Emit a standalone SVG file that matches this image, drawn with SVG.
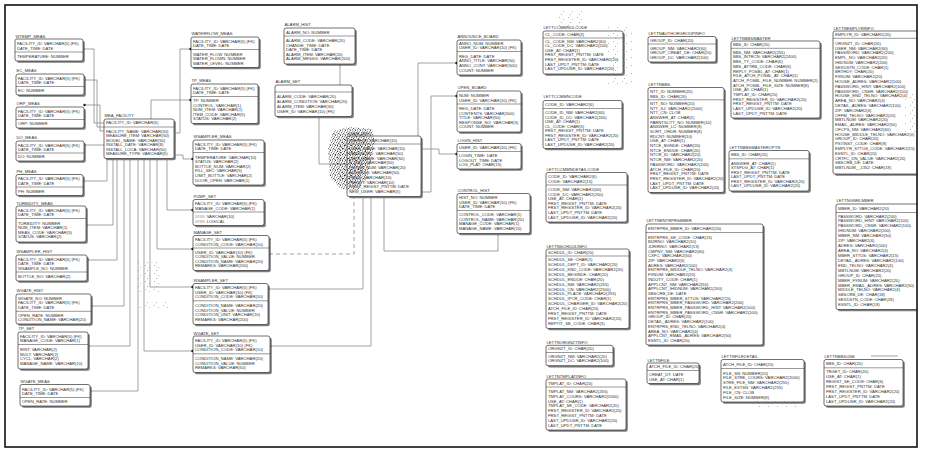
<svg xmlns="http://www.w3.org/2000/svg" width="927" height="454" viewBox="0 0 927 454">
<style>
.t{font-family:"Liberation Sans",Arial,sans-serif;font-size:4.2px;fill:#333}
.b{fill:#fff;stroke:#333;stroke-width:0.7}
.s{fill:#7d7d7d}
.d{stroke:#333;stroke-width:0.5}
.c{fill:none;stroke:#8a8a8a;stroke-width:0.8}
.dash{stroke-dasharray:4 3}
.dot{fill:#111}
</style>
<defs>
<clipPath id="clip"><rect x="0" y="0" width="917" height="454"/></clipPath>
<pattern id="pd" width="5" height="5" patternUnits="userSpaceOnUse">
<rect x="0" y="0" width="1" height="1" fill="#555"/><rect x="2" y="0.6" width="1.2" height="1" fill="#777"/><rect x="4" y="1.5" width="0.9" height="0.9" fill="#444"/>
<rect x="1" y="2.2" width="1" height="1" fill="#666"/><rect x="3" y="3" width="1.1" height="1" fill="#555"/><rect x="0.2" y="4" width="0.9" height="0.9" fill="#888"/>
<rect x="2.3" y="4.2" width="0.8" height="0.8" fill="#444"/><rect x="4.2" y="3.9" width="0.8" height="0.8" fill="#777"/>
</pattern>
<pattern id="pd2" width="7" height="6" patternUnits="userSpaceOnUse">
<rect x="1" y="1" width="1" height="1" fill="#333"/><rect x="4" y="2" width="1.2" height="1.2" fill="#555"/><rect x="6" y="4" width="1" height="1" fill="#444"/><rect x="2.5" y="4.5" width="1" height="1" fill="#666"/>
</pattern>
<pattern id="ps" width="9" height="8" patternUnits="userSpaceOnUse">
<rect x="1" y="1" width="0.8" height="0.8" fill="#888"/><rect x="5" y="3" width="0.8" height="0.8" fill="#999"/><rect x="3" y="6" width="0.8" height="0.8" fill="#888"/>
</pattern>
</defs>
<rect x="0" y="0" width="927" height="454" fill="#fff"/>
<g clip-path="url(#clip)">
<g id="connectors">
<polyline class="c" points="83,49 94,49 94,123 104,123"/>
<polyline class="c" points="84,80 97,80 97,127 104,127"/>
<polyline class="c" points="84,105 100,105 100,131 104,131"/>
<polyline class="c" points="84,145 104,145"/>
<polyline class="c" points="83,181 107,181 107,158.5"/>
<polyline class="c" points="86,225 113,225 113,158.5"/>
<polyline class="c" points="87,260 117,260 117,158.5"/>
<polyline class="c" points="91,306 124,306 124,158.5"/>
<polyline class="c" points="88,346 130,346 130,158.5"/>
<polyline class="c" points="90,391 138,391 138,158.5"/>
<polyline class="c" points="193,351 144,351 144,158.5"/>
<polyline class="c" points="193,287 150,287 150,158.5"/>
<polyline class="c" points="193,249 157,249 157,158.5"/>
<polyline class="c" points="193,210 167,210 167,158.5"/>
<polyline class="c" points="174,155 183,155 183,159 193,159"/>
<polyline class="c" points="191,49 180,49 180,133 174,133"/>
<polyline class="c" points="191,100 151,100 151,119"/>
<polyline class="c" points="340,64 340,85"/>
<polyline class="c" points="319,116.5 319,164 347,164"/>
<polyline class="c" points="457,63 418,63 418,136"/>
<polyline class="c" points="457,96 431,96 431,192 421,192"/>
<polyline class="c" points="457,154 439,154 439,149 421,149"/>
<polyline class="c" points="498,233.5 498,251 384,251 384,196.5"/>
<polyline class="c" points="268,289 363,289 363,196.5"/>
<polyline class="c" points="270,346 371,346 371,196.5"/>
<polyline class="c dash" points="269,254 354,254 354,196.5"/>
<polyline class="c" points="871,356 898,356"/>
<g class="dot">
<circle cx="83.5" cy="49" r="1.2"/><circle cx="84.5" cy="80" r="1.2"/><circle cx="84.5" cy="105" r="1.2"/><circle cx="84.5" cy="145" r="1.2"/>
<circle cx="83.5" cy="181" r="1.2"/><circle cx="86.5" cy="225" r="1.2"/><circle cx="87.5" cy="260" r="1.2"/><circle cx="91.5" cy="306" r="1.2"/>
<circle cx="88.5" cy="346" r="1.2"/><circle cx="90.5" cy="391" r="1.2"/><circle cx="192.5" cy="351" r="1.2"/><circle cx="192.5" cy="287" r="1.2"/>
<circle cx="192.5" cy="249" r="1.2"/><circle cx="192.5" cy="210" r="1.2"/><circle cx="192.5" cy="159" r="1.2"/><circle cx="190.5" cy="49" r="1.2"/>
<circle cx="190.5" cy="100" r="1.2"/><circle cx="340" cy="64.5" r="1.2"/><circle cx="319" cy="117" r="1.2"/><circle cx="456.5" cy="63" r="1.2"/>
<circle cx="456.5" cy="96" r="1.2"/><circle cx="456.5" cy="154" r="1.2"/><circle cx="498" cy="234" r="1.2"/><circle cx="268.5" cy="289" r="1.2"/>
<circle cx="270.5" cy="346" r="1.2"/><circle cx="269.5" cy="254" r="1.2"/>
</g>
</g>

<g id="WTEMP_MEAS"><text class="t" x="15.5" y="37.5">WTEMP_MEAS</text><rect class="s" x="16.8" y="40.8" width="68" height="22" rx="2"/><rect class="b" x="15" y="39" width="68" height="22" rx="2"/><line class="d" x1="15" y1="52" x2="83" y2="52"/>
<text class="t"><tspan x="17" y="45">FACILITY_ID: VARCHAR(5) (FK)</tspan><tspan x="17" y="49.5">DATE_TIME: DATE</tspan><tspan x="17" y="58">TEMPERATURE: NUMBER</tspan></text></g>

<g id="EC_MEAS"><text class="t" x="16.5" y="71.5">EC_MEAS</text><rect class="s" x="17.8" y="75.8" width="68" height="21" rx="2"/><rect class="b" x="16" y="74" width="68" height="21" rx="2"/><line class="d" x1="16" y1="86.5" x2="84" y2="86.5"/>
<text class="t"><tspan x="18" y="79.5">FACILITY_ID: VARCHAR(5) (FK)</tspan><tspan x="18" y="84">DATE_TIME: DATE</tspan><tspan x="18" y="92">EC: NUMBER</tspan></text></g>

<g id="ORP_MEAS"><text class="t" x="16.5" y="104.5">ORP_MEAS</text><rect class="s" x="17.8" y="108.8" width="68" height="21" rx="2"/><rect class="b" x="16" y="107" width="68" height="21" rx="2"/><line class="d" x1="16" y1="119.5" x2="84" y2="119.5"/>
<text class="t"><tspan x="18" y="112.5">FACILITY_ID: VARCHAR(5) (FK)</tspan><tspan x="18" y="117">DATE_TIME: DATE</tspan><tspan x="18" y="125">ORP: NUMBER</tspan></text></g>

<g id="DO_MEAS"><text class="t" x="16.5" y="138.5">DO_MEAS</text><rect class="s" x="17.8" y="142.8" width="68" height="20" rx="2"/><rect class="b" x="16" y="141" width="68" height="20" rx="2"/><line class="d" x1="16" y1="153" x2="84" y2="153"/>
<text class="t"><tspan x="18" y="146.5">FACILITY_ID: VARCHAR(5) (FK)</tspan><tspan x="18" y="151">DATE_TIME: DATE</tspan><tspan x="18" y="158">DO: NUMBER</tspan></text></g>

<g id="PH_MEAS"><text class="t" x="16.5" y="172.5">PH_MEAS</text><rect class="s" x="17.8" y="176.3" width="67" height="21" rx="2"/><rect class="b" x="16" y="174.5" width="67" height="21" rx="2"/><line class="d" x1="16" y1="187" x2="83" y2="187"/>
<text class="t"><tspan x="18" y="180">FACILITY_ID: VARCHAR(5) (FK)</tspan><tspan x="18" y="184.5">DATE_TIME: DATE</tspan><tspan x="18" y="192.5">PH: NUMBER</tspan></text></g>

<g id="TURBIDITY_MEAS"><text class="t" x="16.5" y="204.5">TURBIDITY_MEAS</text><rect class="s" x="17.8" y="207.8" width="70" height="36" rx="2"/><rect class="b" x="16" y="206" width="70" height="36" rx="2"/><line class="d" x1="16" y1="218.5" x2="86" y2="218.5"/>
<text class="t"><tspan x="18" y="211.5">FACILITY_ID: VARCHAR(5) (FK)</tspan><tspan x="18" y="216">DATE_TIME: DATE</tspan><tspan x="18" y="224.5">TURBIDITY: NUMBER</tspan><tspan x="18" y="229">NUM_ITEM: VARCHAR(1)</tspan><tspan x="18" y="233.5">MEAS_CODE: VARCHAR(5)</tspan><tspan x="18" y="238">STATUS: VARCHAR(2)</tspan></text></g>

<g id="WSAMPLER_HIST"><text class="t" x="16.5" y="252.5">WSAMPLER_HIST</text><rect class="s" x="17.8" y="256.8" width="71" height="26" rx="2"/><rect class="b" x="16" y="255" width="71" height="26" rx="2"/><line class="d" x1="16" y1="272" x2="87" y2="272"/>
<text class="t"><tspan x="18" y="260.5">FACILITY_ID: VARCHAR(5) (FK)</tspan><tspan x="18" y="265">DATE_TIME: DATE</tspan><tspan x="18" y="269.5">WSAMPLE_NO: NUMBER</tspan><tspan x="18" y="277.8">BOTTLE_NO: VARCHAR(2)</tspan></text></g>

<g id="WGATE_HIST"><text class="t" x="16.5" y="291.5">WGATE_HIST</text><rect class="s" x="17.8" y="295.8" width="75" height="30" rx="2"/><rect class="b" x="16" y="294" width="75" height="30" rx="2"/><line class="d" x1="16" y1="311.3" x2="91" y2="311.3"/>
<text class="t"><tspan x="18" y="299.5">WGATE_NO: NUMBER</tspan><tspan x="18" y="304">FACILITY_ID: VARCHAR(5) (FK)</tspan><tspan x="18" y="308.5">DATE_TIME: DATE</tspan><tspan x="18" y="316.7">OPEN_RATE: NUMBER</tspan><tspan x="18" y="321.2">CONDITION_NAME: VARCHAR(20)</tspan></text></g>

<g id="TP_SET"><text class="t" x="18.5" y="329.5">TP_SET</text><rect class="s" x="19.8" y="333.8" width="70" height="37" rx="2"/><rect class="b" x="18" y="332" width="70" height="37" rx="2"/><line class="d" x1="18" y1="344.5" x2="88" y2="344.5"/>
<text class="t"><tspan x="20" y="337.5">FACILITY_ID: VARCHAR(5) (FK)</tspan><tspan x="20" y="342">MANAGE_CODE: VARCHAR(1)</tspan><tspan x="20" y="351">RINT: VARCHAR(2)</tspan><tspan x="20" y="355.7">MULT: VARCHAR(2)</tspan><tspan x="20" y="360.4">CYCL: VARCHAR(2)</tspan><tspan x="20" y="365.1">MANAGE_NAME: VARCHAR(10)</tspan></text></g>

<g id="WGATE_MEAS"><text class="t" x="20.5" y="382.5">WGATE_MEAS</text><rect class="s" x="21.8" y="386.3" width="70" height="21.5" rx="2"/><rect class="b" x="20" y="384.5" width="70" height="21.5" rx="2"/><line class="d" x1="20" y1="397.5" x2="90" y2="397.5"/>
<text class="t"><tspan x="22" y="390.5">FACILITY_ID: VARCHAR(5) (FK)</tspan><tspan x="22" y="395">DATE_TIME: DATE</tspan><tspan x="22" y="403">OPEN_RATE: NUMBER</tspan></text></g>

<g id="MEA_FACILITY"><text class="t" x="104.5" y="116.5">MEA_FACILITY</text><rect class="s" x="105.8" y="120.8" width="70" height="39.5" rx="2"/><rect class="b" x="104" y="119" width="70" height="39.5" rx="2"/><line class="d" x1="104" y1="127" x2="174" y2="127"/>
<text class="t"><tspan x="106" y="124.3">FACILITY_ID: VARCHAR(5)</tspan><tspan x="106" y="133">FACILITY_NAME: VARCHAR(50)</tspan><tspan x="106" y="137.4">MEASURE_ITEM: VARCHAR(50)</tspan><tspan x="106" y="141.8">MODEL_NAME: VARCHAR(50)</tspan><tspan x="106" y="146.2">INSTALL_DATE: VARCHAR(8)</tspan><tspan x="106" y="150.6">INSTALL_LOCA: VARCHAR(50)</tspan><tspan x="106" y="155">MEASURE_TYPE: VARCHAR(5)</tspan></text></g>

<g id="WATERFLOW_MEAS"><text class="t" x="191.5" y="34.5">WATERFLOW_MEAS</text><rect class="s" x="192.8" y="38.8" width="68" height="30.5" rx="2"/><rect class="b" x="191" y="37" width="68" height="30.5" rx="2"/><line class="d" x1="191" y1="49.5" x2="259" y2="49.5"/>
<text class="t"><tspan x="193" y="42.5">FACILITY_ID: VARCHAR(5) (FK)</tspan><tspan x="193" y="47">DATE_TIME: DATE</tspan><tspan x="193" y="55.5">WATER_FLOW: NUMBER</tspan><tspan x="193" y="60">WATER_FLOWN: NUMBER</tspan><tspan x="193" y="64.5">WATER_LEVEL: NUMBER</tspan></text></g>

<g id="TP_MEAS"><text class="t" x="191.5" y="81.5">TP_MEAS</text><rect class="s" x="192.8" y="85.8" width="67" height="39.5" rx="2"/><rect class="b" x="191" y="84" width="67" height="39.5" rx="2"/><line class="d" x1="191" y1="96.5" x2="258" y2="96.5"/>
<text class="t"><tspan x="193" y="89.5">FACILITY_ID: VARCHAR(5) (FK)</tspan><tspan x="193" y="94">DATE_TIME: DATE</tspan><tspan x="193" y="102">TP: NUMBER</tspan><tspan x="193" y="106.5">CONTROL: VARCHAR(1)</tspan><tspan x="193" y="111">NUM_ITEM: VARCHAR(1)</tspan><tspan x="193" y="115.5">ITEM_CODE: VARCHAR(5)</tspan><tspan x="193" y="120">STATUS: VARCHAR(2)</tspan></text></g>

<g id="WSAMPLER_MEAS"><text class="t" x="193.5" y="137.5">WSAMPLER_MEAS</text><rect class="s" x="194.8" y="141.8" width="71" height="45" rx="2"/><rect class="b" x="193" y="140" width="71" height="45" rx="2"/><line class="d" x1="193" y1="152.5" x2="264" y2="152.5"/>
<text class="t"><tspan x="195" y="145.5">FACILITY_ID: VARCHAR(5) (FK)</tspan><tspan x="195" y="150">DATE_TIME: DATE</tspan><tspan x="195" y="158.5">TEMPERATURE: VARCHAR(10)</tspan><tspan x="195" y="163.1">STATUS: VARCHAR(2)</tspan><tspan x="195" y="167.7">BOTTLE_NUM: VARCHAR(2)</tspan><tspan x="195" y="172.3">FILL_SEC: VARCHAR(5)</tspan><tspan x="195" y="176.9">LIMIT_BOTTLE: VARCHAR(2)</tspan><tspan x="195" y="181.5">DOOR_OPEN: VARCHAR(1)</tspan></text></g>

<g id="PUMP_SET"><text class="t" x="193.5" y="197.5">PUMP_SET</text><rect class="s" x="194.8" y="201.3" width="71" height="26" rx="2"/><rect class="b" x="193" y="199.5" width="71" height="26" rx="2"/><line class="d" x1="193" y1="212" x2="264" y2="212"/>
<text class="t"><tspan x="195" y="205">FACILITY_ID: VARCHAR(5) (FK)</tspan><tspan x="195" y="209.5">MANAGE_CODE: VARCHAR(1)</tspan><tspan x="195" y="218">####: VARCHAR(10)</tspan><tspan x="195" y="222.5">####: LOGICAL</tspan></text></g>

<g id="MANAGE_SET"><text class="t" x="193.5" y="233.5">MANAGE_SET</text><rect class="s" x="194.8" y="237.3" width="76" height="35" rx="2"/><rect class="b" x="193" y="235.5" width="76" height="35" rx="2"/><line class="d" x1="193" y1="248" x2="269" y2="248"/>
<text class="t"><tspan x="195" y="241">FACILITY_ID: VARCHAR(5) (FK)</tspan><tspan x="195" y="245.5">CONDITION_CODE: VARCHAR(10)</tspan><tspan x="195" y="253.8">USER_ID: VARCHAR(10) (FK)</tspan><tspan x="195" y="258.3">CONDITION_VALUE: NUMBER</tspan><tspan x="195" y="262.8">CONDITION_NAME: VARCHAR(20)</tspan><tspan x="195" y="267.3">REMARKS: VARCHAR(200)</tspan></text></g>

<g id="WSAMPLER_SET"><text class="t" x="193.5" y="281.5">WSAMPLER_SET</text><rect class="s" x="194.8" y="285.3" width="75" height="41" rx="2"/><rect class="b" x="193" y="283.5" width="75" height="41" rx="2"/><line class="d" x1="193" y1="300.8" x2="268" y2="300.8"/>
<text class="t"><tspan x="195" y="289">FACILITY_ID: VARCHAR(5) (FK)</tspan><tspan x="195" y="293.6">USER_ID: VARCHAR(10) (FK)</tspan><tspan x="195" y="298.2">CONDITION_CODE: VARCHAR(10)</tspan><tspan x="195" y="306.8">CONDITION_NAME: VARCHAR(20)</tspan><tspan x="195" y="311.5">CONDITION_VALUE: NUMBER</tspan><tspan x="195" y="316.2">CONDITION_UNIT: VARCHAR(10)</tspan><tspan x="195" y="320.9">REMARKS: VARCHAR(200)</tspan></text></g>

<g id="WGATE_SET"><text class="t" x="193.5" y="334.5">WGATE_SET</text><rect class="s" x="194.8" y="337.8" width="77" height="36.5" rx="2"/><rect class="b" x="193" y="336" width="77" height="36.5" rx="2"/><line class="d" x1="193" y1="353.8" x2="270" y2="353.8"/>
<text class="t"><tspan x="195" y="341.8">FACILITY_ID: VARCHAR(5) (FK)</tspan><tspan x="195" y="346.5">USER_ID: VARCHAR(10) (FK)</tspan><tspan x="195" y="351.2">CONDITION_CODE: VARCHAR(10)</tspan><tspan x="195" y="360">CONDITION_NAME: VARCHAR(20)</tspan><tspan x="195" y="364.7">CONDITION_VALUE: NUMBER</tspan><tspan x="195" y="369.4">REMARKS: VARCHAR(50)</tspan></text></g>

<g id="ALARM_HIST"><text class="t" x="284.5" y="25.5">ALARM_HIST</text><rect class="s" x="285.8" y="29.8" width="71" height="36" rx="2"/><rect class="b" x="284" y="28" width="71" height="36" rx="2"/><line class="d" x1="284" y1="36" x2="355" y2="36"/>
<text class="t"><tspan x="286" y="33.5">ALARM_NO: NUMBER</tspan><tspan x="286" y="42">ALARM_CODE: VARCHAR(20)</tspan><tspan x="286" y="46.6">CHANGE_TIME: DATE</tspan><tspan x="286" y="51.2">DATE_TIME: DATE</tspan><tspan x="286" y="55.8">ALARM_ITEM: VARCHAR(20)</tspan><tspan x="286" y="60.4">ALARM_MESSG: VARCHAR(200)</tspan></text></g>

<g id="ALARM_SET"><text class="t" x="275.5" y="82.5">ALARM_SET</text><rect class="s" x="276.8" y="86.8" width="77" height="31.5" rx="2"/><rect class="b" x="275" y="85" width="77" height="31.5" rx="2"/><line class="d" x1="275" y1="92" x2="352" y2="92"/>
<text class="t"><tspan x="277" y="98.2">ALARM_CODE: VARCHAR(20)</tspan><tspan x="277" y="103">ALARM_CONDITION: VARCHAR(20)</tspan><tspan x="277" y="107.8">ALARM_ITEM: VARCHAR(50)</tspan><tspan x="277" y="112.6">USER_ID: VARCHAR(10) (FK)</tspan></text></g>

<g id="USER_INFO"><text class="t" x="347.5" y="134.5">USER_INFO</text><rect class="s" x="348.8" y="137.8" width="74" height="60.5" rx="2"/><rect class="b" x="347" y="136" width="74" height="60.5" rx="2"/><line class="d" x1="347" y1="144" x2="421" y2="144"/>
<text class="t"><tspan x="349" y="141.5">USER_ID: VARCHAR(10)</tspan><tspan x="349" y="150">USER_NAME: VARCHAR(10)</tspan><tspan x="349" y="154.8">PASSWORD: VARCHAR(50)</tspan><tspan x="349" y="159.6">DEPT_NAME: VARCHAR(50)</tspan><tspan x="349" y="164.3">E_MAIL: VARCHAR(50)</tspan><tspan x="349" y="169.1">PHONE_NUM: VARCHAR(20)</tspan><tspan x="349" y="173.9">ADDRESS: VARCHAR(50)</tspan><tspan x="349" y="178.7">PRIVS: VARCHAR(10)</tspan><tspan x="349" y="183.5">PERMIT: VARCHAR(10)</tspan><tspan x="349" y="188.2">FIRST_REGIST_PNTTM: DATE</tspan><tspan x="349" y="193">NEW_USER: VARCHAR(5)</tspan></text></g>

<g id="ANNOUNCE_BOARD"><text class="t" x="457.5" y="38.3">ANNOUNCE_BOARD</text><rect class="s" x="458.8" y="41.8" width="64" height="35" rx="2"/><rect class="b" x="457" y="40" width="64" height="35" rx="2"/><line class="d" x1="457" y1="51.5" x2="521" y2="51.5"/>
<text class="t"><tspan x="459" y="44.8">ANNO_NUM: NUMBER</tspan><tspan x="459" y="49.2">USER_ID: VARCHAR(10) (FK)</tspan><tspan x="459" y="57.5">REG_DATE: DATE</tspan><tspan x="459" y="62.2">ANNO_TITLE: VARCHAR(50)</tspan><tspan x="459" y="66.9">ANNO_CONT: VARCHAR(500)</tspan><tspan x="459" y="71.6">COUNT: NUMBER</tspan></text></g>

<g id="OPEN_BOARD"><text class="t" x="457.5" y="88.5">OPEN_BOARD</text><rect class="s" x="458.8" y="92.8" width="64" height="41" rx="2"/><rect class="b" x="457" y="91" width="64" height="41" rx="2"/><line class="d" x1="457" y1="104" x2="521" y2="104"/>
<text class="t"><tspan x="459" y="97">NUM: NUMBER</tspan><tspan x="459" y="101.5">USER_ID: VARCHAR(10) (FK)</tspan><tspan x="459" y="110">REG_DATE: DATE</tspan><tspan x="459" y="114.6">CONTENTS: VARCHAR(500)</tspan><tspan x="459" y="119.2">TITLE: VARCHAR(50)</tspan><tspan x="459" y="123.8">RESPONSE_NO: VARCHAR(5)</tspan><tspan x="459" y="128.4">COUNT: NUMBER</tspan></text></g>

<g id="LOGIN_HIST"><text class="t" x="457.5" y="141.5">LOGIN_HIST</text><rect class="s" x="458.8" y="145.3" width="64" height="25.5" rx="2"/><rect class="b" x="457" y="143.5" width="64" height="25.5" rx="2"/><line class="d" x1="457" y1="151.5" x2="521" y2="151.5"/>
<text class="t"><tspan x="459" y="149">USER_ID: VARCHAR(10) (FK)</tspan><tspan x="459" y="157">LOGIN_TIME: DATE</tspan><tspan x="459" y="161.5">LOGOUT_TIME: DATE</tspan><tspan x="459" y="166">LOG_PLAT: CHAR(15)</tspan></text></g>

<g id="CONTROL_HIST"><text class="t" x="457.5" y="191.5">CONTROL_HIST</text><rect class="s" x="458.8" y="195.3" width="73" height="40" rx="2"/><rect class="b" x="457" y="193.5" width="73" height="40" rx="2"/><line class="d" x1="457" y1="210.5" x2="530" y2="210.5"/>
<text class="t"><tspan x="459" y="199">HIST_NO: NUMBER</tspan><tspan x="459" y="203.5">USER_ID: VARCHAR(10) (FK)</tspan><tspan x="459" y="208">DATE_TIME: DATE</tspan><tspan x="459" y="216">CONTROL_CODE: VARCHAR(1)</tspan><tspan x="459" y="220.5">CONTROL_NAME: VARCHAR(20)</tspan><tspan x="459" y="225">MANAGE_CODE: VARCHAR(1)</tspan><tspan x="459" y="229.5">MANAGE_NAME: VARCHAR(10)</tspan></text></g>

<g id="LETTCCMMNCLCODE"><text class="t" x="543.5" y="29.3">LETTCCMMNCLCODE</text><rect class="s" x="544.8" y="32.8" width="80" height="43" rx="2"/><rect class="b" x="543" y="31" width="80" height="43" rx="2"/><line class="d" x1="543" y1="38" x2="623" y2="38"/>
<text class="t"><tspan x="545" y="35.8">CL_CODE: CHAR(3)</tspan><tspan x="545" y="42.5">CL_CODE_NM: VARCHAR2(60)</tspan><tspan x="545" y="47.1">CL_CODE_DC: VARCHAR2(200)</tspan><tspan x="545" y="51.7">USE_AT: CHAR(1)</tspan><tspan x="545" y="56.3">FRST_REGIST_PNTTM: DATE</tspan><tspan x="545" y="60.9">FRST_REGISTER_ID: VARCHAR2(20)</tspan><tspan x="545" y="65.5">LAST_UPDT_PNTTM: DATE</tspan><tspan x="545" y="70.1">LAST_UPDUSR_ID: VARCHAR2(20)</tspan></text></g>

<g id="LETTCCMMNCODE"><text class="t" x="543.5" y="98">LETTCCMMNCODE</text><rect class="s" x="544.8" y="102.3" width="79" height="48" rx="2"/><rect class="b" x="543" y="100.5" width="79" height="48" rx="2"/><line class="d" x1="543" y1="108.5" x2="622" y2="108.5"/>
<text class="t"><tspan x="545" y="106">CODE_ID: VARCHAR2(6)</tspan><tspan x="545" y="114.3">CODE_ID_NM: VARCHAR2(60)</tspan><tspan x="545" y="118.8">CODE_ID_DC: VARCHAR2(200)</tspan><tspan x="545" y="123.3">USE_AT: CHAR(1)</tspan><tspan x="545" y="127.8">CL_CODE: CHAR(3)</tspan><tspan x="545" y="132.3">FRST_REGIST_PNTTM: DATE</tspan><tspan x="545" y="136.8">FRST_REGISTER_ID: VARCHAR2(20)</tspan><tspan x="545" y="141.3">LAST_UPDT_PNTTM: DATE</tspan><tspan x="545" y="145.8">LAST_UPDUSR_ID: VARCHAR2(20)</tspan></text></g>

<g id="LETTCCMMNDETAILCODE"><text class="t" x="546.5" y="170.5">LETTCCMMNDETAILCODE</text><rect class="s" x="547.8" y="174.3" width="81" height="49.5" rx="2"/><rect class="b" x="546" y="172.5" width="81" height="49.5" rx="2"/><line class="d" x1="546" y1="185" x2="627" y2="185"/>
<text class="t"><tspan x="548" y="178">CODE_ID: VARCHAR2(6)</tspan><tspan x="548" y="182.5">CODE: VARCHAR2(15)</tspan><tspan x="548" y="191.2">CODE_NM: VARCHAR2(60)</tspan><tspan x="548" y="195.7">CODE_DC: VARCHAR2(200)</tspan><tspan x="548" y="200.2">USE_AT: CHAR(1)</tspan><tspan x="548" y="204.8">FRST_REGIST_PNTTM: DATE</tspan><tspan x="548" y="209.4">FRST_REGISTER_ID: VARCHAR2(20)</tspan><tspan x="548" y="214">LAST_UPDT_PNTTM: DATE</tspan><tspan x="548" y="218.6">LAST_UPDUSR_ID: VARCHAR2(20)</tspan></text></g>

<g id="LETTNSCHDULINFO"><text class="t" x="546.5" y="247.5">LETTNSCHDULINFO</text><rect class="s" x="547.8" y="250.8" width="83" height="79.5" rx="2"/><rect class="b" x="546" y="249" width="83" height="79.5" rx="2"/><line class="d" x1="546" y1="256" x2="629" y2="256"/>
<text class="t"><tspan x="548" y="253.5">SCHDUL_ID: CHAR(20)</tspan><tspan x="548" y="260.8">SCHDUL_SE: CHAR(1)</tspan><tspan x="548" y="265.75">SCHDUL_DEPT_ID: VARCHAR2(20)</tspan><tspan x="548" y="270.7">SCHDUL_KND_CODE: VARCHAR2(20)</tspan><tspan x="548" y="275.65">SCHDUL_BEGINDE: CHAR(20)</tspan><tspan x="548" y="280.6">SCHDUL_ENDDE: CHAR(20)</tspan><tspan x="548" y="285.55">SCHDUL_NM: VARCHAR2(255)</tspan><tspan x="548" y="290.5">SCHDUL_CN: VARCHAR2(2500)</tspan><tspan x="548" y="295.45">SCHDUL_PLACE: VARCHAR2(255)</tspan><tspan x="548" y="300.4">SCHDUL_IPCR_CODE: CHAR(1)</tspan><tspan x="548" y="305.35">SCHDUL_CHARGER_ID: VARCHAR2(20)</tspan><tspan x="548" y="310.3">ATCH_FILE_ID: CHAR(20)</tspan><tspan x="548" y="315.25">FRST_REGIST_PNTTM: DATE</tspan><tspan x="548" y="320.2">FRST_REGISTER_ID: VARCHAR2(20)</tspan><tspan x="548" y="325.15">REPTIT_SE_CODE: CHAR(3)</tspan></text></g>

<g id="LETTNORGNZTINFO"><text class="t" x="546.5" y="343.5">LETTNORGNZTINFO</text><rect class="s" x="547.8" y="347.1" width="67" height="20.4" rx="2"/><rect class="b" x="546" y="345.3" width="67" height="20.4" rx="2"/><line class="d" x1="546" y1="352.5" x2="613" y2="352.5"/>
<text class="t"><tspan x="548" y="350.2">ORGNZT_ID: CHAR(20)</tspan><tspan x="548" y="357.5">ORGNZT_NM: VARCHAR2(20)</tspan><tspan x="548" y="362">ORGNZT_DC: VARCHAR2(100)</tspan></text></g>

<g id="LETTNTMPLATINFO"><text class="t" x="546.5" y="377.5">LETTNTMPLATINFO</text><rect class="s" x="547.8" y="380.8" width="80" height="51" rx="2"/><rect class="b" x="546" y="379" width="80" height="51" rx="2"/><line class="d" x1="546" y1="387" x2="626" y2="387"/>
<text class="t"><tspan x="548" y="384.5">TMPLAT_ID: CHAR(20)</tspan><tspan x="548" y="392.8">TMPLAT_NM: VARCHAR2(255)</tspan><tspan x="548" y="397.7">TMPLAT_COURS: VARCHAR2(2000)</tspan><tspan x="548" y="402.5">USE_AT: CHAR(1)</tspan><tspan x="548" y="407.4">TMPLAT_SE_CODE: VARCHAR2(20)</tspan><tspan x="548" y="412.2">FRST_REGISTER_ID: VARCHAR2(20)</tspan><tspan x="548" y="417.1">FRST_REGIST_PNTTM: DATE</tspan><tspan x="548" y="422">LAST_UPDUSR_ID: VARCHAR2(20)</tspan><tspan x="548" y="426.8">LAST_UPDT_PNTTM: DATE</tspan></text></g>

<g id="LETTNAUTHORGROUPINFO"><text class="t" x="648.5" y="34.5">LETTNAUTHORGROUPINFO</text><rect class="s" x="649.8" y="38.3" width="68" height="25.5" rx="2"/><rect class="b" x="648" y="36.5" width="68" height="25.5" rx="2"/><line class="d" x1="648" y1="44" x2="716" y2="44"/>
<text class="t"><tspan x="650" y="41.8">GROUP_ID: CHAR(20)</tspan><tspan x="650" y="49.8">GROUP_NM: VARCHAR2(60)</tspan><tspan x="650" y="54.3">GROUP_CREAT_DE: CHAR(20)</tspan><tspan x="650" y="58.8">GROUP_DC: VARCHAR2(100)</tspan></text></g>

<g id="LETTNBBS"><text class="t" x="648.5" y="85.5">LETTNBBS</text><rect class="s" x="649.8" y="89.3" width="76" height="105" rx="2"/><rect class="b" x="648" y="87.5" width="76" height="105" rx="2"/><line class="d" x1="648" y1="99.8" x2="724" y2="99.8"/>
<text class="t"><tspan x="650" y="93">NTT_ID: NUMBER(20)</tspan><tspan x="650" y="97.5">BBS_ID: CHAR(20)</tspan><tspan x="650" y="105">NTT_NO: NUMBER(20)</tspan><tspan x="650" y="109.68">NTT_SJ: VARCHAR2(2000)</tspan><tspan x="650" y="114.36">NTT_CN: CLOB</tspan><tspan x="650" y="119.04">ANSWER_AT: CHAR(1)</tspan><tspan x="650" y="123.72">PARNTSCTT_NO: NUMBER(10)</tspan><tspan x="650" y="128.4">ANSWER_LC: NUMBER(8)</tspan><tspan x="650" y="133.08">SORT_ORDR: NUMBER(8)</tspan><tspan x="650" y="137.76">RDCNT: NUMBER(10)</tspan><tspan x="650" y="142.44">USE_AT: CHAR(1)</tspan><tspan x="650" y="147.12">NTCE_BGNDE: CHAR(20)</tspan><tspan x="650" y="151.8">NTCE_ENDDE: CHAR(20)</tspan><tspan x="650" y="156.48">NTCR_ID: VARCHAR2(20)</tspan><tspan x="650" y="161.16">NTCR_NM: VARCHAR2(20)</tspan><tspan x="650" y="165.84">PASSWORD: VARCHAR2(200)</tspan><tspan x="650" y="170.52">ATCH_FILE_ID: CHAR(20)</tspan><tspan x="650" y="175.2">FRST_REGIST_PNTTM: DATE</tspan><tspan x="650" y="179.88">FRST_REGISTER_ID: VARCHAR2(20)</tspan><tspan x="650" y="184.56">LAST_UPDT_PNTTM: DATE</tspan><tspan x="650" y="189.24">LAST_UPDUSR_ID: VARCHAR2(20)</tspan></text></g>

<g id="LETTNBBSMASTER"><text class="t" x="731.5" y="39.5">LETTNBBSMASTER</text><rect class="s" x="732.8" y="42.8" width="89" height="77" rx="2"/><rect class="b" x="731" y="41" width="89" height="77" rx="2"/><line class="d" x1="731" y1="48.3" x2="820" y2="48.3"/>
<text class="t"><tspan x="733" y="45.8">BBS_ID: CHAR(20)</tspan><tspan x="733" y="53.8">BBS_NM: VARCHAR2(255)</tspan><tspan x="733" y="58.48">BBS_INTRCN: VARCHAR2(2400)</tspan><tspan x="733" y="63.16">BBS_TY_CODE: CHAR(6)</tspan><tspan x="733" y="67.84">BBS_ATTRB_CODE: CHAR(6)</tspan><tspan x="733" y="72.52">REPLY_POSBL_AT: CHAR(1)</tspan><tspan x="733" y="77.2">FILE_ATCH_POSBL_AT: CHAR(1)</tspan><tspan x="733" y="81.88">ATCH_POSBL_FILE_NUMBER: NUMBER(2)</tspan><tspan x="733" y="86.56">ATCH_POSBL_FILE_SIZE: NUMBER(8)</tspan><tspan x="733" y="91.24">USE_AT: CHAR(1)</tspan><tspan x="733" y="95.92">TMPLAT_ID: CHAR(20)</tspan><tspan x="733" y="100.6">FRST_REGISTER_ID: VARCHAR2(20)</tspan><tspan x="733" y="105.28">FRST_REGIST_PNTTM: DATE</tspan><tspan x="733" y="109.96">LAST_UPDUSR_ID: VARCHAR2(20)</tspan><tspan x="733" y="114.64">LAST_UPDT_PNTTM: DATE</tspan></text></g>

<g id="LETTNBBSMASTEROPTN"><text class="t" x="729.5" y="148.5">LETTNBBSMASTEROPTN</text><rect class="s" x="730.8" y="152.3" width="80" height="40.5" rx="2"/><rect class="b" x="729" y="150.5" width="80" height="40.5" rx="2"/><line class="d" x1="729" y1="158.8" x2="809" y2="158.8"/>
<text class="t"><tspan x="731" y="156.3">BBS_ID: CHAR(20)</tspan><tspan x="731" y="164.5">ANSWER_AT: CHAR(1)</tspan><tspan x="731" y="169">STSFDG_AT: CHAR(1)</tspan><tspan x="731" y="173.5">FRST_REGIST_PNTTM: DATE</tspan><tspan x="731" y="178">LAST_UPDT_PNTTM: DATE</tspan><tspan x="731" y="182.5">FRST_REGISTER_ID: VARCHAR2(20)</tspan><tspan x="731" y="187">LAST_UPDUSR_ID: VARCHAR2(20)</tspan></text></g>

<g id="LETTNEMPLYRINFO"><text class="t" x="833.5" y="29.5">LETTNEMPLYRINFO</text><rect class="s" x="834.8" y="32.8" width="95" height="143" rx="2"/><rect class="b" x="833" y="31" width="95" height="143" rx="2"/><line class="d" x1="833" y1="38.3" x2="928" y2="38.3"/>
<text class="t"><tspan x="835" y="35.8">EMPLYR_ID: VARCHAR2(20)</tspan><tspan x="835" y="44.8">ORGNZT_ID: CHAR(20)</tspan><tspan x="835" y="49.58">USER_NM: VARCHAR2(60)</tspan><tspan x="835" y="54.36">PASSWORD: VARCHAR2(200)</tspan><tspan x="835" y="59.14">EMPL_NO: VARCHAR2(20)</tspan><tspan x="835" y="63.92">IHIDNUM: VARCHAR2(200)</tspan><tspan x="835" y="68.7">SEXDSTN_CODE: CHAR(1)</tspan><tspan x="835" y="73.48">BRTHDY: CHAR(20)</tspan><tspan x="835" y="78.26">FXNUM: VARCHAR2(20)</tspan><tspan x="835" y="83.04">HOUSE_ADRES: VARCHAR2(100)</tspan><tspan x="835" y="87.82">PASSWORD_HINT: VARCHAR2(100)</tspan><tspan x="835" y="92.6">PASSWORD_CNSR: VARCHAR2(100)</tspan><tspan x="835" y="97.38">HOUSE_END_TELNO: VARCHAR2(4)</tspan><tspan x="835" y="102.16">AREA_NO: VARCHAR2(4)</tspan><tspan x="835" y="106.94">DETAIL_ADRES: VARCHAR2(100)</tspan><tspan x="835" y="111.72">ZIP: VARCHAR2(6)</tspan><tspan x="835" y="116.5">OFFM_TELNO: VARCHAR2(20)</tspan><tspan x="835" y="121.28">MBTLNUM: VARCHAR2(20)</tspan><tspan x="835" y="126.06">EMAIL_ADRES: VARCHAR2(50)</tspan><tspan x="835" y="130.84">OFCPS_NM: VARCHAR2(60)</tspan><tspan x="835" y="135.62">HOUSE_MIDDLE_TELNO: VARCHAR2(4)</tspan><tspan x="835" y="140.4">GROUP_ID: CHAR(20)</tspan><tspan x="835" y="145.18">PSTINST_CODE: CHAR(8)</tspan><tspan x="835" y="149.96">EMPLYR_STTUS_CODE: VARCHAR2(15)</tspan><tspan x="835" y="154.74">ESNTL_ID: CHAR(20)</tspan><tspan x="835" y="159.52">CRTFC_DN_VALUE: VARCHAR2(20)</tspan><tspan x="835" y="164.3">SBSCRB_DE: DATE</tspan><tspan x="835" y="169.08">MBTLNUM__1352: CHAR(18)</tspan></text></g>

<g id="LETTNENTRPRSMBER"><text class="t" x="646.5" y="221.5">LETTNENTRPRSMBER</text><rect class="s" x="647.8" y="225.8" width="117" height="121" rx="2"/><rect class="b" x="646" y="224" width="117" height="121" rx="2"/><line class="d" x1="646" y1="232.5" x2="763" y2="232.5"/>
<text class="t"><tspan x="648" y="229.5">ENTRPRS_MBER_ID: VARCHAR2(20)</tspan><tspan x="648" y="238.5">ENTRPRS_SE_CODE: CHAR(15)</tspan><tspan x="648" y="243.2">BIZRNO: VARCHAR2(10)</tspan><tspan x="648" y="247.9">JURIRNO: VARCHAR2(13)</tspan><tspan x="648" y="252.6">CMPNY_NM: VARCHAR2(60)</tspan><tspan x="648" y="257.3">CXFC: VARCHAR2(50)</tspan><tspan x="648" y="262">ZIP: VARCHAR2(6)</tspan><tspan x="648" y="266.7">ADRES: VARCHAR2(100)</tspan><tspan x="648" y="271.4">ENTRPRS_MIDDLE_TELNO: VARCHAR2(4)</tspan><tspan x="648" y="276.1">FXNUM: VARCHAR2(20)</tspan><tspan x="648" y="280.8">INDUTY_CODE: CHAR(1)</tspan><tspan x="648" y="285.5">APPLCNT_NM: VARCHAR2(50)</tspan><tspan x="648" y="290.2">APPLCNT_IHIDNUM: VARCHAR2(200)</tspan><tspan x="648" y="294.9">SBSCRB_DE: DATE</tspan><tspan x="648" y="299.6">ENTRPRS_MBER_STTUS: VARCHAR2(15)</tspan><tspan x="648" y="304.3">ENTRPRS_MBER_PASSWORD: VARCHAR2(200)</tspan><tspan x="648" y="309">ENTRPRS_MBER_PASSWORD_HINT: VARCHAR2(100)</tspan><tspan x="648" y="313.7">ENTRPRS_MBER_PASSWORD_CNSR: VARCHAR2(100)</tspan><tspan x="648" y="318.4">GROUP_ID: CHAR(20)</tspan><tspan x="648" y="323.1">DETAIL_ADRES: VARCHAR2(100)</tspan><tspan x="648" y="327.8">ENTRPRS_END_TELNO: VARCHAR2(4)</tspan><tspan x="648" y="332.5">AREA_NO: VARCHAR2(4)</tspan><tspan x="648" y="337.2">APPLCNT_EMAIL_ADRES: VARCHAR2(50)</tspan><tspan x="648" y="341.9">ESNTL_ID: CHAR(20)</tspan></text></g>

<g id="LETTNGNRLMBER"><text class="t" x="836.5" y="201.5">LETTNGNRLMBER</text><rect class="s" x="837.8" y="205.8" width="92" height="105.5" rx="2"/><rect class="b" x="836" y="204" width="92" height="105.5" rx="2"/><line class="d" x1="836" y1="212.5" x2="928" y2="212.5"/>
<text class="t"><tspan x="838" y="210">MBER_ID: VARCHAR2(20)</tspan><tspan x="838" y="217.5">PASSWORD: VARCHAR2(200)</tspan><tspan x="838" y="222.43">PASSWORD_HINT: VARCHAR2(100)</tspan><tspan x="838" y="227.36">PASSWORD_CNSR: VARCHAR2(100)</tspan><tspan x="838" y="232.29">IHIDNUM: VARCHAR2(200)</tspan><tspan x="838" y="237.22">MBER_NM: VARCHAR2(50)</tspan><tspan x="838" y="242.15">ZIP: VARCHAR2(6)</tspan><tspan x="838" y="247.08">ADRES: VARCHAR2(100)</tspan><tspan x="838" y="252.01">AREA_NO: VARCHAR2(4)</tspan><tspan x="838" y="256.94">MBER_STTUS: VARCHAR2(15)</tspan><tspan x="838" y="261.87">DETAIL_ADRES: VARCHAR2(100)</tspan><tspan x="838" y="266.8">END_TELNO: VARCHAR2(4)</tspan><tspan x="838" y="271.73">MBTLNUM: VARCHAR2(20)</tspan><tspan x="838" y="276.66">GROUP_ID: CHAR(20)</tspan><tspan x="838" y="281.59">MBER_FXNUM: VARCHAR2(20)</tspan><tspan x="838" y="286.52">MBER_EMAIL_ADRES: VARCHAR2(50)</tspan><tspan x="838" y="291.45">MIDDLE_TELNO: VARCHAR2(4)</tspan><tspan x="838" y="296.38">SBSCRB_DE: CHAR(18)</tspan><tspan x="838" y="301.31">SEXDSTN_CODE: CHAR(18)</tspan><tspan x="838" y="306.24">ESNTL_ID: CHAR(18)</tspan></text></g>

<g id="LETTNFILE"><text class="t" x="647.5" y="361.5">LETTNFILE</text><rect class="s" x="648.8" y="364.8" width="52" height="20.5" rx="2"/><rect class="b" x="647" y="363" width="52" height="20.5" rx="2"/><line class="d" x1="647" y1="370.5" x2="699" y2="370.5"/>
<text class="t"><tspan x="649" y="368">ATCH_FILE_ID: CHAR(20)</tspan><tspan x="649" y="376.3">CREAT_DT: DATE</tspan><tspan x="649" y="380.7">USE_AT: CHAR(1)</tspan></text></g>

<g id="LETTNFILEDETAIL"><text class="t" x="721.5" y="357.5">LETTNFILEDETAIL</text><rect class="s" x="722.8" y="361.3" width="83" height="42.5" rx="2"/><rect class="b" x="721" y="359.5" width="83" height="42.5" rx="2"/><line class="d" x1="721" y1="368.5" x2="804" y2="368.5"/>
<text class="t"><tspan x="723" y="366">ATCH_FILE_ID: CHAR(20)</tspan><tspan x="723" y="374.5">FILE_SN: NUMBER(10)</tspan><tspan x="723" y="379.4">FILE_STRE_COURS: VARCHAR2(2000)</tspan><tspan x="723" y="384.3">STRE_FILE_NM: VARCHAR2(255)</tspan><tspan x="723" y="389.2">FILE_EXTSN: VARCHAR2(255)</tspan><tspan x="723" y="394.1">FILE_CN: CLOB</tspan><tspan x="723" y="399">FILE_SIZE: NUMBER(8)</tspan></text></g>

<g id="LETTNBBSUSE"><text class="t" x="824.5" y="357.5">LETTNBBSUSE</text><rect class="s" x="825.8" y="361.3" width="79" height="46.5" rx="2"/><rect class="b" x="824" y="359.5" width="79" height="46.5" rx="2"/><line class="d" x1="824" y1="367.8" x2="903" y2="367.8"/>
<text class="t"><tspan x="826" y="365.2">BBS_ID: CHAR(20)</tspan><tspan x="826" y="373">TRGET_ID: CHAR(20)</tspan><tspan x="826" y="377.95">USE_AT: CHAR(1)</tspan><tspan x="826" y="382.9">REGIST_SE_CODE: CHAR(6)</tspan><tspan x="826" y="387.85">FRST_REGIST_PNTTM: DATE</tspan><tspan x="826" y="392.8">FRST_REGISTER_ID: VARCHAR2(20)</tspan><tspan x="826" y="397.75">LAST_UPDT_PNTTM: DATE</tspan><tspan x="826" y="402.7">LAST_UPDUSR_ID: VARCHAR2(20)</tspan></text></g>

<g id="noise">
<path d="M333,131 L350,127 L372,129 L375,141 L371,160 L367,178 L358,190 L341,189 L330,177 L328,150 Z" fill="url(#pd)"/>
<path d="M338,136 L362,133 L370,146 L365,170 L354,184 L340,181 L334,160 Z" fill="url(#pd2)"/>
<rect x="558" y="10" width="28" height="22" fill="url(#ps)"/>
<rect x="608" y="26" width="24" height="58" fill="url(#ps)"/>
<rect x="905" y="93" width="12" height="40" fill="url(#ps)"/>
<rect x="752" y="400" width="48" height="9" fill="url(#ps)"/>
<rect x="137" y="262" width="24" height="32" fill="url(#ps)"/>
<rect x="140" y="302" width="28" height="6" fill="url(#ps)"/>
</g>
</g>
<rect x="5" y="5" width="912" height="442" fill="none" stroke="#111" stroke-width="1.6"/>
</svg>
